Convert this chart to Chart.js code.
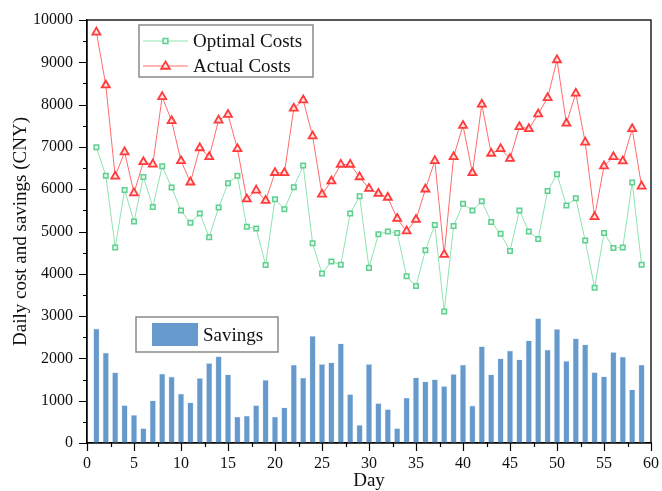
<!DOCTYPE html>
<html lang="en">
<head>
  <meta charset="UTF-8">
  <title>Daily cost and savings</title>
  <script src="https://cdn.jsdelivr.net/npm/chart.js"></script>
  <style>
    body { margin: 0; background: #fff; }
    #wrap { width: 662px; height: 491px; }
  </style>
</head>
<body>
  <div id="wrap"><canvas id="costChart" width="662" height="491"></canvas></div>
  <script>
    // values, one per day
    const days = [];
    for (let d = 1; d <= 59; d++) days.push(d);

    const optimalCosts = [
      6990, 6320, 4620, 5980, 5235, 6290, 5580, 6545, 6040, 5495,
      5205, 5425, 4865, 5565, 6140, 6320, 5110, 5070, 4210, 5765,
      5525, 6045, 6560, 4720, 4005, 4290, 4215, 5425, 5835, 4140,
      4935, 5000, 4965, 3940, 3710, 4555, 5155, 3110, 5130, 5655,
      5495, 5715, 5225, 4945, 4540, 5495, 5000, 4825, 5955, 6355,
      5615, 5785, 4785, 3670, 4965, 4610, 4620, 6160, 4215
    ];
    const actualCosts = [
      9710, 8460, 6305, 6880, 5910, 6645, 6590, 8185, 7615, 6670,
      6165, 6975, 6765, 7630, 7765, 6955, 5765, 5975, 5730, 6390,
      6385, 7910, 8105, 7255, 5880, 6190, 6585, 6585, 6290, 6015,
      5895, 5805, 5305, 5010, 5280, 6000, 6670, 4455, 6765, 7505,
      6385, 8005, 6845, 6955, 6725, 7475, 7425, 7775, 8160, 9055,
      7555, 8265, 7110, 5345, 6545, 6765, 6665, 7425, 6070
    ];
    const savings = [
      2705, 2135, 1670, 895, 665, 350, 1005, 1640, 1570, 1165,
      960, 1535, 1890, 2050, 1620, 620, 645, 895, 1490, 620,
      840, 1850, 1545, 2530, 1865, 1905, 2355, 1155, 430, 1865,
      940, 800, 350, 1070, 1550, 1455, 1505, 1345, 1630, 1850,
      885, 2285, 1620, 2000, 2185, 1975, 2425, 2950, 2205, 2695,
      1940, 2470, 2330, 1675, 1575, 2150, 2040, 1265, 1850
    ];

    const xTicks = { min: 0, max: 60, major: 5, minor: 2.5 };
    const yTicks = { min: 0, max: 10000, major: 1000, minor: 500 };

    const serif = "'Liberation Serif', 'DejaVu Serif', serif";

    const pts = arr => days.map((d, i) => ({ x: d, y: arr[i] }));

    // frame, minor/major tick marks and the two legend boxes
    const decor = {
      id: 'decor',
      afterDraw(chart) {
        const c = chart.ctx;
        const a = chart.chartArea;
        const xs = chart.scales.x, ys = chart.scales.y;
        c.save();
        c.strokeStyle = '#000';
        c.lineWidth = 1.3;
        c.strokeRect(a.left, a.top, a.right - a.left, a.bottom - a.top);

        c.lineWidth = 1.2;
        c.beginPath();
        for (let v = yTicks.min; v <= yTicks.max; v += yTicks.minor) {
          const p = Math.round(ys.getPixelForValue(v)) + 0.5;
          const len = v % yTicks.major === 0 ? 8 : 4;
          c.moveTo(a.left - len, p);
          c.lineTo(a.left, p);
        }
        for (let v = xTicks.min; v <= xTicks.max; v += xTicks.minor) {
          const p = Math.round(xs.getPixelForValue(v)) + 0.5;
          const len = v % xTicks.major === 0 ? 8 : 4;
          c.moveTo(p, a.bottom);
          c.lineTo(p, a.bottom + len);
        }
        c.stroke();

        // legend for the two cost lines
        const ds = chart.data.datasets;
        c.fillStyle = '#fff';
        c.strokeStyle = '#8a8a8a';
        c.lineWidth = 1.5;
        c.fillRect(139, 25, 174, 52);
        c.strokeRect(139, 25, 174, 52);
        c.font = '19px ' + serif;
        c.textBaseline = 'middle';
        [[ds[1], 41], [ds[2], 66]].forEach(([d, y]) => {
          c.strokeStyle = d.borderColor;
          c.lineWidth = 1;
          c.beginPath();
          c.moveTo(143, y);
          c.lineTo(188, y);
          c.stroke();
          c.fillStyle = d.pointBackgroundColor;
          c.strokeStyle = d.pointBorderColor;
          c.lineWidth = d.pointBorderWidth;
          c.beginPath();
          const r = d.pointRadius;
          if (d.pointStyle === 'rect') {
            c.rect(165.5 - r * 0.75, y - r * 0.75, r * 1.5, r * 1.5);
          } else {
            c.moveTo(165.5, y - r);
            c.lineTo(165.5 + r * 0.95, y + r * 0.6);
            c.lineTo(165.5 - r * 0.95, y + r * 0.6);
            c.closePath();
          }
          c.fill();
          c.stroke();
          c.fillStyle = '#111';
          c.fillText(d.label, 193, y + 1);
        });

        // legend for the savings bars
        c.fillStyle = '#fff';
        c.strokeStyle = '#8a8a8a';
        c.lineWidth = 1.5;
        c.fillRect(136, 317, 142, 35);
        c.strokeRect(136, 317, 142, 35);
        c.fillStyle = ds[0].backgroundColor;
        c.fillRect(152, 323, 46, 23);
        c.fillStyle = '#111';
        c.fillText(ds[0].label, 203, 336);
        c.restore();
      }
    };

    new Chart(document.getElementById('costChart'), {
      type: 'bar',
      data: {
        datasets: [
          {
            label: 'Savings',
            data: pts(savings),
            backgroundColor: '#6699cc',
            borderColor: '#cfe0f2',
            borderWidth: 0.6,
            categoryPercentage: 1,
            barPercentage: 0.66,
            order: 3
          },
          {
            type: 'line',
            label: 'Optimal Costs',
            data: pts(optimalCosts),
            borderColor: '#8fe3b0',
            borderWidth: 1,
            pointStyle: 'rect',
            pointRadius: 3.2,
            pointBorderWidth: 1.5,
            pointBorderColor: '#5fd08f',
            pointBackgroundColor: '#e8f9ef',
            tension: 0,
            order: 2
          },
          {
            type: 'line',
            label: 'Actual Costs',
            data: pts(actualCosts),
            borderColor: '#ff6b6b',
            borderWidth: 1,
            pointStyle: 'triangle',
            pointRadius: 4.6,
            pointBorderWidth: 1.8,
            pointBorderColor: '#ff3b3b',
            pointBackgroundColor: '#ffe3e3',
            tension: 0,
            order: 1
          }
        ]
      },
      options: {
        responsive: false,
        animation: false,
        layout: { padding: { top: 20, right: 9, left: 0, bottom: 0 } },
        plugins: {
          legend: { display: false },
          tooltip: { enabled: false }
        },
        scales: {
          x: {
            type: 'linear',
            min: xTicks.min,
            max: xTicks.max,
            offset: false,
            afterFit: s => { s.height = 48; },
            grid: { display: false, drawTicks: true, tickLength: 8, offset: false },
            border: { display: true, color: '#000', width: 1.3 },
            ticks: {
              stepSize: xTicks.major,
              color: '#111',
              padding: 3,
              maxRotation: 0,
              callback: v => String(v),
              font: { family: serif, size: 16 }
            },
            title: {
              display: true,
              text: 'Day',
              color: '#111',
              padding: { top: 0, bottom: 0 },
              font: { family: serif, size: 19, lineHeight: 1 }
            }
          },
          y: {
            min: yTicks.min,
            max: yTicks.max,
            afterFit: s => { s.width = 87; },
            grid: { display: false, drawTicks: true, tickLength: 8 },
            border: { display: true, color: '#000', width: 1.3 },
            ticks: {
              stepSize: yTicks.major,
              color: '#111',
              padding: 6,
              callback: v => String(v),
              font: { family: serif, size: 16 }
            },
            title: {
              display: true,
              text: 'Daily cost and savings (CNY)',
              color: '#111',
              padding: { top: 12, bottom: 0 },
              font: { family: serif, size: 19, lineHeight: 1 }
            }
          }
        }
      },
      plugins: [decor]
    });
  </script>
</body>
</html>
